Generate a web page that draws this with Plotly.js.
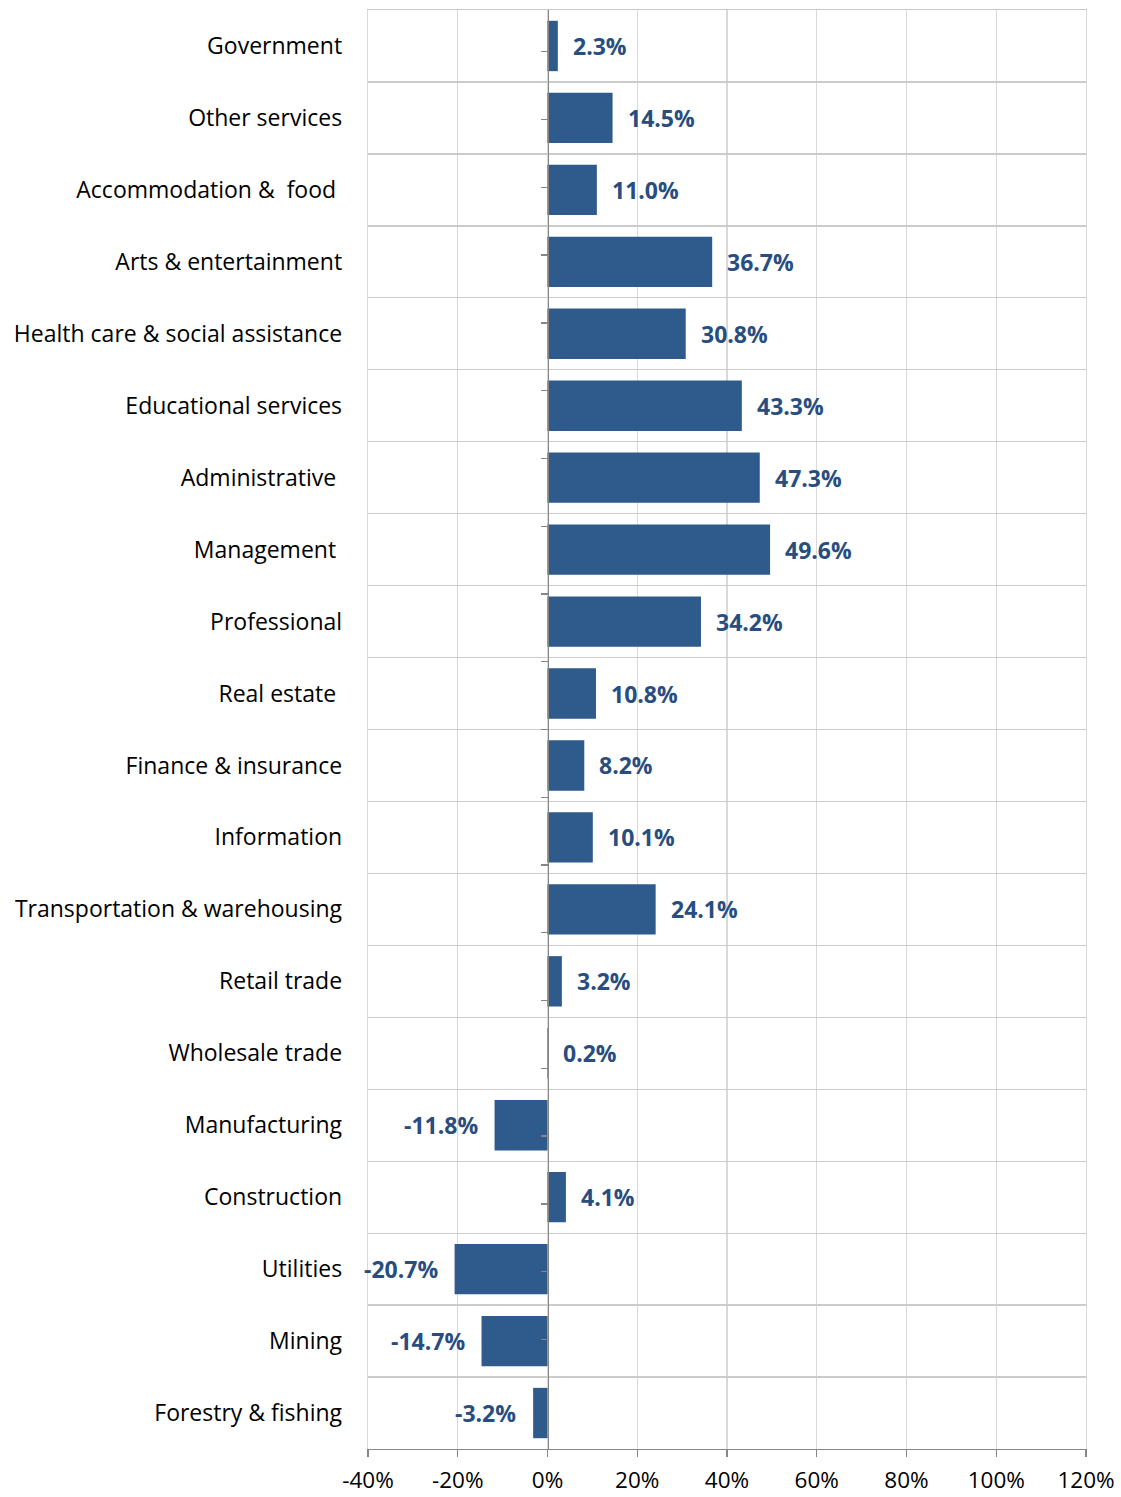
<!DOCTYPE html>
<html>
<head>
<meta charset="utf-8">
<script src="https://cdn.plot.ly/plotly-3.0.1.min.js"></script>
<style>html,body{margin:0;padding:0;background:#fff;}#chart{width:1121px;height:1497px;}</style>
</head>
<body>
<div id="chart"></div>
<script>
const categories = [
  "Government", "Other services", "Accommodation &\u00a0 food\u00a0", "Arts & entertainment",
  "Health care & social assistance", "Educational services", "Administrative\u00a0", "Management\u00a0",
  "Professional", "Real estate\u00a0", "Finance & insurance", "Information",
  "Transportation & warehousing", "Retail trade", "Wholesale trade", "Manufacturing",
  "Construction", "Utilities", "Mining", "Forestry & fishing"
];
const values = [2.3, 14.5, 11.0, 36.7, 30.8, 43.3, 47.3, 49.6, 34.2, 10.8, 8.2, 10.1, 24.1, 3.2, 0.2, -11.8, 4.1, -20.7, -14.7, -3.2];
const xTickVals = [-40, -20, 0, 20, 40, 60, 80, 100, 120];

const FONT = "'Open Sans', sans-serif";
const barColor = "#2E5A8C";
const labelColor = "#284D80";

const traces = [
  {
    type: "bar", orientation: "h", x: values, y: categories,
    marker: {color: barColor}, hoverinfo: "skip", xaxis: "x", yaxis: "y"
  },
  {
    type: "scatter", mode: "markers", x: values, y: categories,
    marker: {opacity: 0}, hoverinfo: "skip", xaxis: "x2", yaxis: "y2", showlegend: false
  }
];

const annotations = values.map((v, i) => ({
  x: v, y: categories[i], xref: "x", yref: "y",
  text: v.toFixed(1) + "%", showarrow: false,
  xanchor: v >= 0 ? "left" : "right", xshift: v >= 0 ? 13 : -15,
  font: {family: FONT, size: 23, color: labelColor, weight: "bold"}
}));

const layout = {
  width: 1121, height: 1497,
  margin: {l: 368, r: 35, t: 10, b: 48},
  paper_bgcolor: "#fff", plot_bgcolor: "#fff",
  showlegend: false, bargap: 0.3,
  font: {family: FONT, size: 23, color: "#000"},
  xaxis: {
    range: [-40, 120], tickvals: xTickVals, ticktext: xTickVals.map(v => v + "%"),
    showgrid: true, gridcolor: "#D9D9D9", gridwidth: 1.3,
    zeroline: false, showline: true, linecolor: "#868686", linewidth: 1.3,
    ticks: "outside", ticklen: 7, tickcolor: "#868686", tickwidth: 1.3,
    ticklabelstandoff: 4,
    tickfont: {family: FONT, size: 22.5, color: "#000"}, fixedrange: true
  },
  xaxis2: {
    overlaying: "x", side: "top", matches: "x", anchor: "y2",
    showline: true, linecolor: "#C8C8C8", linewidth: 1.3,
    showgrid: false, zeroline: false, ticks: "", showticklabels: false, fixedrange: true
  },
  yaxis: {
    type: "category", categoryorder: "array", categoryarray: categories, autorange: "reversed",
    tickson: "boundaries", showgrid: true, gridcolor: "#CCCCCC", gridwidth: 1.3,
    showline: true, linecolor: "#D9D9D9", linewidth: 1.3, mirror: true,
    ticks: "", ticklabelstandoff: 20,
    tickfont: {family: FONT, size: 23, color: "#000"}, fixedrange: true
  },
  yaxis2: {
    type: "category", categoryorder: "array", categoryarray: categories, autorange: "reversed",
    overlaying: "y", anchor: "free", position: 0.25, side: "left",
    tickson: "boundaries", showgrid: false, showline: true, linecolor: "#868686", linewidth: 1.3,
    ticks: "outside", ticklen: 7, tickcolor: "#868686", tickwidth: 1.3,
    showticklabels: false, fixedrange: true
  },
  annotations: annotations
};

Plotly.newPlot("chart", traces, layout, {staticPlot: true, displayModeBar: false});
</script>
</body>
</html>
